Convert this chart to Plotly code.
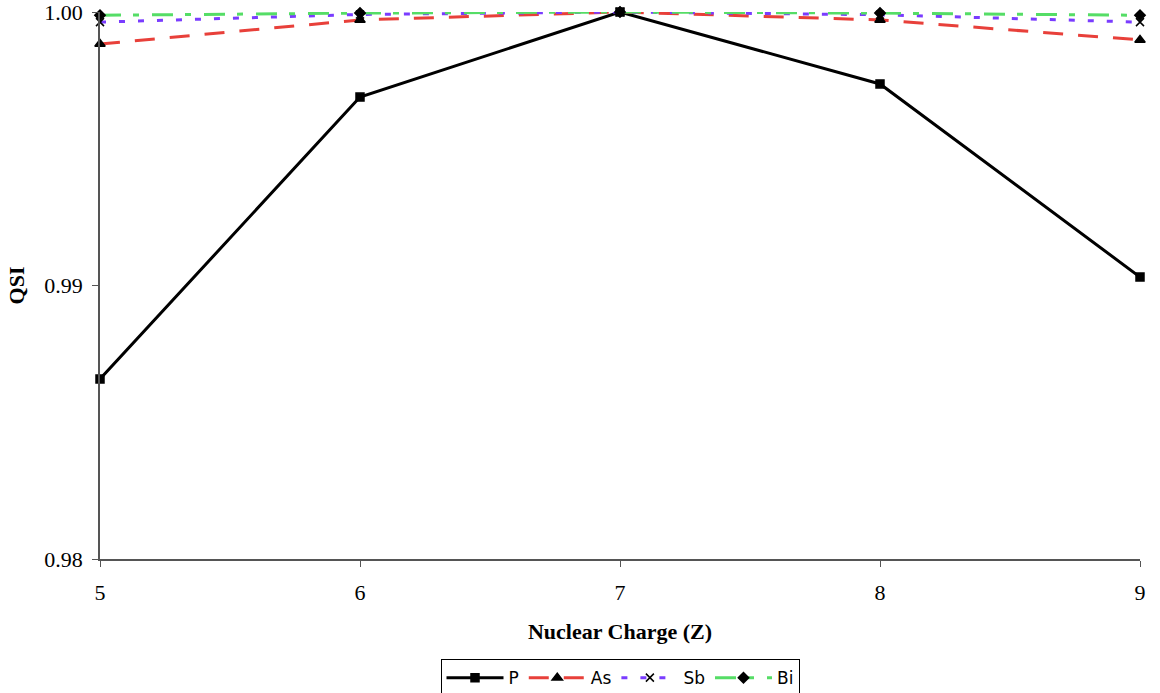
import plotly.graph_objects as go

z = [5, 6, 7, 8, 9]
p_vals = [0.98658, 0.99689, 1.0, 0.99737, 0.99031]
as_vals = [0.99883, 0.99971, 1.0, 0.99971, 0.99898]
sb_vals = [0.99963, 0.99991, 1.0, 0.9999, 0.99963]
bi_vals = [0.99988, 0.99996, 1.0, 0.99996, 0.99988]
y_ticks = [0.98, 0.99, 1.00]
y_tick_text = ["0.98", "0.99", "1.00"]

fig = go.Figure()
series = [
    ("P", p_vals, "#000000", "solid", "square", 8),
    ("As", as_vals, "#E8403A", "20px,15px", "triangle-up", 9),
    ("Sb", sb_vals, "#7A3CFF", "6px,13px", "x-thin-open", 8),
    ("Bi", bi_vals, "#55DD66", "21px,12px,6px,13px", "diamond", 8),
]
for name, vals, color, dash, sym, size in series:
    fig.add_trace(go.Scatter(
        x=z, y=vals, name=name, mode="lines+markers",
        line=dict(color=color, width=3, dash=dash),
        marker=dict(symbol=sym, size=size, color="black",
                    line=dict(color="black", width=1.5)),
        cliponaxis=False,
    ))

serif = "Liberation Serif, Times New Roman, serif"
fig.update_layout(
    width=1160, height=693,
    margin=dict(l=100, r=20, t=12, b=134, autoexpand=False),
    plot_bgcolor="white", paper_bgcolor="white",
    showlegend=True,
    legend=dict(orientation="h", x=0.5, xanchor="center", y=-0.183, yanchor="top",
                bordercolor="black", borderwidth=1,
                font=dict(family="DejaVu Sans, sans-serif", size=17, color="black"),
                itemwidth=57, tracegroupgap=0),
    xaxis=dict(range=[5, 9], tickvals=z, ticks="outside", ticklen=6, tickcolor="#555",
               showline=True, linecolor="#555", linewidth=1.5, showgrid=False, zeroline=False,
               automargin=False, ticklabelstandoff=7, ticklabeloverflow="allow",
               tickfont=dict(family=serif, size=22, color="black"),
               title=dict(text="<b>Nuclear Charge (Z)</b>",
                          font=dict(family=serif, size=22, color="black"), standoff=19)),
    yaxis=dict(range=[0.98, 1.0000001], tickvals=y_ticks, ticktext=y_tick_text, ticks="outside",
               ticklen=6, tickcolor="#555",
               showline=True, linecolor="#555", linewidth=1.5, showgrid=False, zeroline=False,
               automargin=False, ticklabelstandoff=5, ticklabeloverflow="allow",
               tickfont=dict(family=serif, size=22, color="black"),
               title=dict(text="<b>QSI</b>",
                          font=dict(family=serif, size=22, color="black"), standoff=14)),
)
fig.write_html("out.html", config={"displayModeBar": False},
               post_script="document.body.style.margin='0';document.body.style.overflow='hidden';")
